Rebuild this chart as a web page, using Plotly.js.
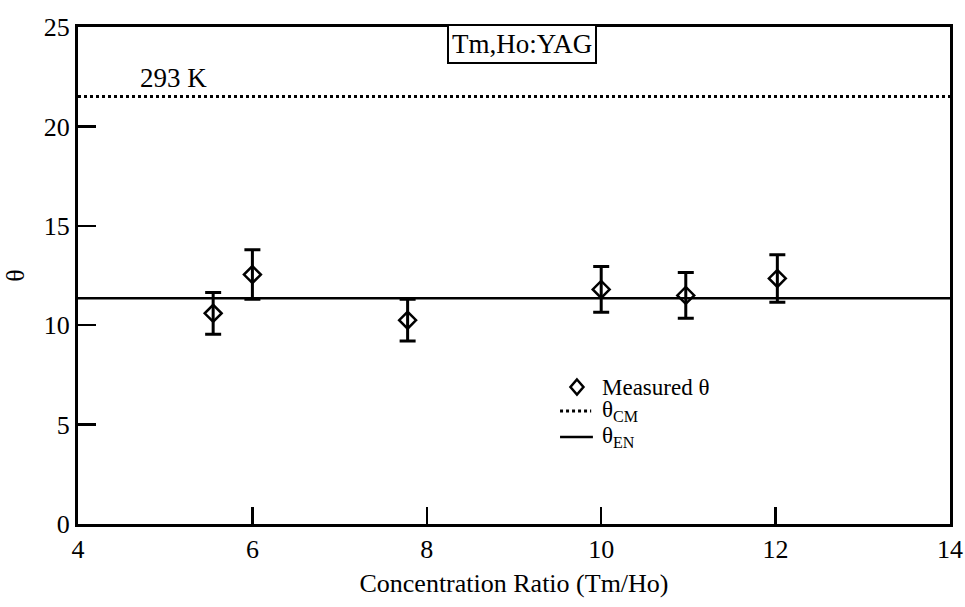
<!DOCTYPE html>
<html>
<head>
<meta charset="utf-8">
<script src="https://cdn.plot.ly/plotly-3.0.1.min.js"></script>
<style>html,body{margin:0;padding:0;background:#fff;}#chart{width:965px;height:607px;}</style>
</head>
<body>
<div id="chart"></div>
<script>
// Measured data
const ratio = [5.55, 6.0, 7.78, 10.0, 10.97, 12.02];
const theta = [10.6, 12.55, 10.25, 11.8, 11.5, 12.35];
const thetaErr = [1.05, 1.25, 1.05, 1.15, 1.15, 1.2];
// Model lines
const lineX = [4, 14];
const thetaCM = [21.5, 21.5];
const thetaEN = [11.35, 11.35];
const xTicks = [4, 6, 8, 10, 12, 14];
const yTicks = [0, 5, 10, 15, 20, 25];
const legendNames = ['Measured θ', 'θ<sub>CM</sub>', 'θ<sub>EN</sub>'];

const serif = "Liberation Serif, Times New Roman, serif";

const traces = [
  {
    x: ratio, y: theta, mode: 'markers', type: 'scatter', name: legendNames[0],
    marker: {symbol: 'diamond-open', size: 13, color: '#000', line: {width: 2.5, color: '#000'}},
    error_y: {type: 'data', array: thetaErr, visible: true, color: '#000', thickness: 3, width: 8}
  },
  {
    x: lineX, y: thetaCM, mode: 'lines', type: 'scatter', name: legendNames[1],
    line: {color: '#000', width: 3, dash: 'dot'}
  },
  {
    x: lineX, y: thetaEN, mode: 'lines', type: 'scatter', name: legendNames[2],
    line: {color: '#000', width: 2.5}
  }
];

// Hand-built legend (paper coordinates)
const PW = 872, PH = 497;
const lx0 = 0.5528, lx1 = 0.5885, ltext = 0.5998;
const rowY = [0.2757, 0.2274, 0.1751];
const dc = {x: 0.5722, y: rowY[0]};
const dw = 6.5 / PW, dh = 7.5 / PH;

const layout = {
  width: 965, height: 607,
  margin: {l: 78, r: 15, t: 27, b: 83},
  paper_bgcolor: '#fff', plot_bgcolor: '#fff',
  font: {family: serif, size: 24, color: '#000'},
  showlegend: false,
  xaxis: {
    range: [4, 14], tickvals: xTicks, ticktext: xTicks.map(String),
    ticks: 'inside', ticklen: 17, tickwidth: 2.5, tickcolor: '#000',
    showline: true, linewidth: 3, linecolor: '#000', mirror: true,
    showgrid: false, zeroline: false,
    tickfont: {family: serif, size: 26},
    title: {text: 'Concentration Ratio (Tm/Ho)', font: {family: serif, size: 26}, standoff: 11}
  },
  yaxis: {
    range: [0, 25], tickvals: yTicks, ticktext: yTicks.map(String),
    ticks: 'inside', ticklen: 18, tickwidth: 2.5, tickcolor: '#000',
    showline: true, linewidth: 3, linecolor: '#000', mirror: true,
    showgrid: false, zeroline: false,
    tickfont: {family: serif, size: 26},
    title: {text: 'θ', font: {family: serif, size: 26}, standoff: 12}
  },
  shapes: [
    {type: 'path', xref: 'paper', yref: 'paper',
     path: `M ${dc.x} ${dc.y + dh} L ${dc.x + dw} ${dc.y} L ${dc.x} ${dc.y - dh} L ${dc.x - dw} ${dc.y} Z`,
     line: {color: '#000', width: 2.5}},
    {type: 'line', xref: 'paper', yref: 'paper', x0: lx0, x1: lx1, y0: rowY[1], y1: rowY[1],
     line: {color: '#000', width: 3, dash: 'dot'}},
    {type: 'line', xref: 'paper', yref: 'paper', x0: lx0, x1: lx1 + 0.002, y0: rowY[2], y1: rowY[2],
     line: {color: '#000', width: 2.5}}
  ],
  annotations: [
    {xref: 'paper', yref: 'paper', x: 0.509, y: 0.9668, text: 'Tm,Ho:YAG', showarrow: false,
     font: {family: serif, size: 27, color: '#000'}, bgcolor: '#fff', bordercolor: '#000',
     borderwidth: 2, borderpad: 3, xanchor: 'center', yanchor: 'middle'},
    {xref: 'x', yref: 'y', x: 5.09, y: 22.45, text: '293 K', showarrow: false,
     font: {family: serif, size: 27, color: '#000'}, xanchor: 'center', yanchor: 'middle'}
  ].concat(legendNames.map((t, i) => ({
     xref: 'paper', yref: 'paper', x: ltext, y: rowY[i], text: t, showarrow: false,
     font: {family: serif, size: 23, color: '#000'}, xanchor: 'left', yanchor: 'middle',
     height: 22, borderpad: 0
  })))
};

Plotly.newPlot('chart', traces, layout, {displayModeBar: false, staticPlot: true});
</script>
</body>
</html>
